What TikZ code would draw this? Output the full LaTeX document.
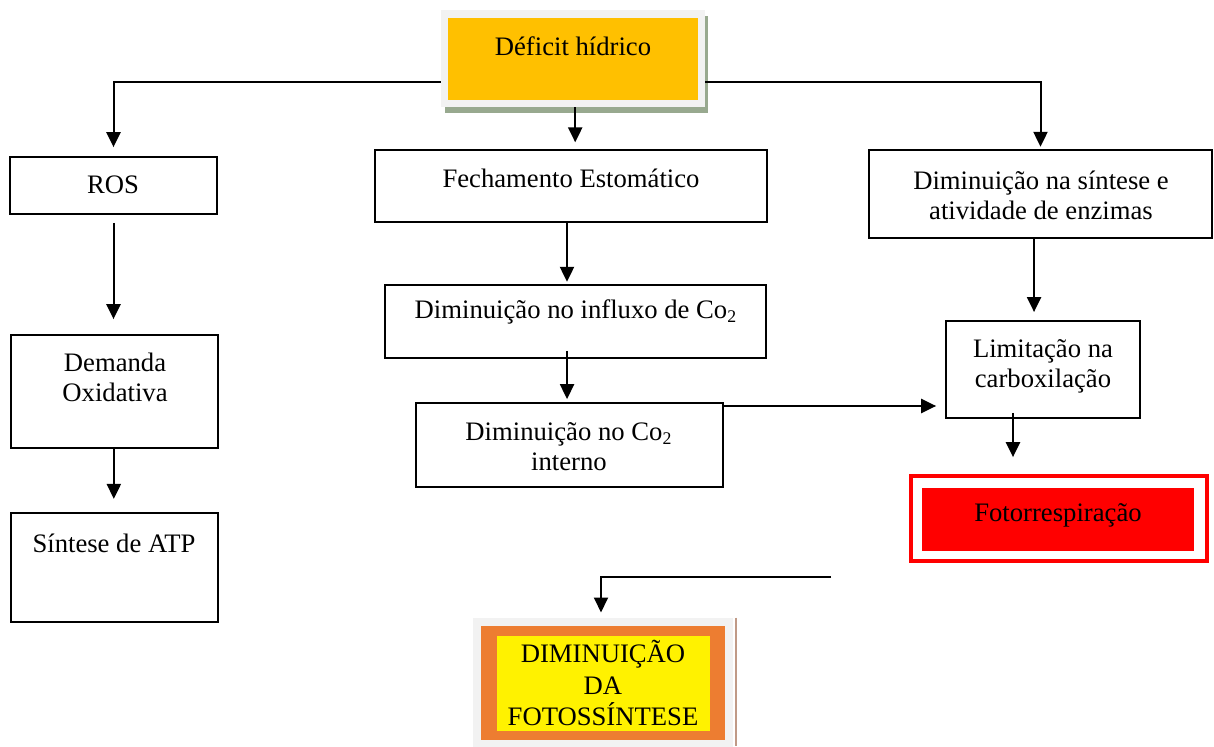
\documentclass[tikz,border=0pt]{standalone}
\usepackage{fontspec}
\setmainfont{Liberation Serif}
\usetikzlibrary{fit,arrows.meta}

\definecolor{deforange}{HTML}{FFC000}
\definecolor{shadegrey}{HTML}{F2F2F2}
\definecolor{shadegreen}{HTML}{98A98F}
\definecolor{dimorange}{HTML}{ED7D31}
\definecolor{dimbrown}{HTML}{C09A87}

\tikzset{
  box/.style={draw, line width=0.9pt, inner sep=0pt},
  plain/.style={inner sep=0pt},
  txt/.style={font=\fontsize{12}{13.5}\selectfont, align=center, inner sep=0pt},
  arr/.style={-{Triangle[length=6.7pt,width=6.3pt]}, line width=0.9pt},
}

\begin{document}
\begin{tikzpicture}[x=0.45pt, y=-0.45pt]
    \useasboundingbox (0,0) rectangle (1214,747);

    % top box
    \node[plain, fill=shadegreen, fit={(445,16) (708,113)}] (defshadow) {};
    \node[plain, fill=shadegrey, fit={(441,10) (705,107)}] (defout) {};
    \node[plain, fill=deforange, fit={(448,18) (698,100)}] (def) {};
    \node[txt] (def-t) at (573,46) {Déficit hídrico};

    % left column
    \node[box, fit={(10,157) (217,214)}] (ros) {};
    \node[txt] (ros-t) at (113,185) {ROS};
    \node[box, fit={(11,335) (218,448)}] (dem) {};
    \node[txt] (dem-t) at (115,377) {Demanda\\Oxidativa};
    \node[box, fit={(11,513) (218,622)}] (atp) {};
    \node[txt] (atp-t) at (114,543) {Síntese de ATP};

    % middle column
    \node[box, fit={(375,150) (767,222)}] (fech) {};
    \node[txt] (fech-t) at (571,178) {Fechamento Estomático};
    \node[box, fit={(385,285) (766,358)}] (infl) {};
    \node[txt] (infl-t) at (576,312) {Diminuição no influxo de Co\textsubscript{2}};
    \node[box, fit={(416,403) (723,487)}] (int) {};
    \node[txt] (int-t) at (569,447) {Diminuição no Co\textsubscript{2}\\interno};

    % right column
    \node[box, fit={(869,150) (1212,238)}] (enz) {};
    \node[txt] (enz-t) at (1041,195) {Diminuição na síntese e\\atividade de enzimas};
    \node[box, fit={(946,321) (1140,418)}] (lim) {};
    \node[txt] (lim-t) at (1043,366) {Limitação na\\carboxilação};
    \node[plain, draw=red, line width=1.8pt, fit={(911,476) (1207,561)}] (foto) {};
    \node[plain, fill=red, fit={(922,488) (1194,551)}] (foto-in) {};
    \node[txt] (foto-t) at (1058,515) {Fotorrespiração};

    % bottom box
    \node[plain, fill=shadegrey, fit={(473,618) (733,747)}] (dimout) {};
    \draw[dimbrown, line width=1pt] (dimout.north east) ++(1pt,0) -- ++(0,-58pt);
    \node[plain, fill=dimorange, fit={(481,626) (725,740)}] (dimmid) {};
    \node[plain, fill=yellow, fit={(497,636) (710,731)}] (dim) {};
    \node[txt, font=\fontsize{12}{14}\selectfont] (dim-t) at (603,683) {DIMINUIÇÃO\\DA\\FOTOSSÍNTESE};
    \coordinate (bend) at (831,577);

    % connectors
    \draw[arr, shorten >=4pt] ([yshift=-10.6pt]defout.west) -| (ros.north);
    \draw[arr, shorten >=1pt] ([yshift=-10.6pt]defout.east) -| (enz.north);
    \draw[arr, shorten >=3pt] ([xshift=1pt]defout.south) -- ([xshift=1pt]defout.south |- fech.north);
    \draw[arr, shorten <=3.6pt, shorten >=6.7pt] (ros.south) -- (ros.south |- dem.north);
    \draw[arr, shorten >=5.9pt] ([xshift=-0.3pt]dem.south) -- ([xshift=-0.3pt]dem.south |- atp.north);
    \draw[arr, shorten >=1pt] ([xshift=-1.8pt]fech.south) -- ([xshift=-1.8pt]fech.south |- infl.north);
    \draw[arr, shorten >=1.3pt] ([xshift=-3.8pt,yshift=3.6pt]infl.south) -- ([xshift=-3.8pt]infl.south |- int.north);
    \draw[arr, shorten >=4pt] ([yshift=-1.8pt]int.north east) -- ([yshift=-1.8pt]int.north east -| lim.west);
    \draw[arr, shorten >=3.6pt] ([xshift=-2.9pt]enz.south) -- ([xshift=-2.9pt]enz.south |- lim.north);
    \draw[arr, shorten >=7.6pt] ([xshift=-13.5pt,yshift=2.7pt]lim.south) -- ([xshift=-13.5pt]lim.south |- foto.north);
    \draw[arr, shorten >=2.3pt] (bend) -| ([xshift=-0.9pt]dimout.north);
\end{tikzpicture}
\end{document}
